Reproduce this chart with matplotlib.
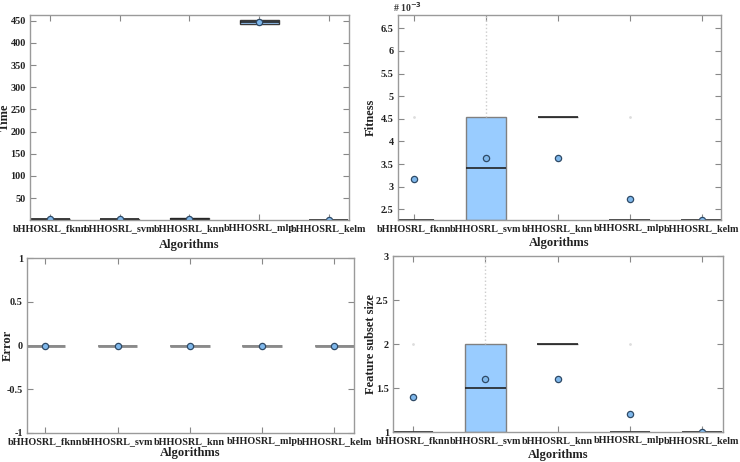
import matplotlib
matplotlib.use("Agg")
import matplotlib.pyplot as plt

plt.rcParams['font.family'] = ['Liberation Serif', 'DejaVu Serif']
plt.rcParams['font.weight'] = 'bold'

algorithms = ["bHHOSRL_fknn", "bHHOSRL_svm", "bHHOSRL_knn", "bHHOSRL_mlp", "bHHOSRL_kelm"]

# Time
time_q1 = [2.0, 1.5, 2.5, 443.0, 0.8]
time_med = [2.5, 2.0, 3.5, 448.0, 1.0]
time_q3 = [3.0, 2.5, 4.8, 452.0, 1.2]
time_lo = [1.5, 1.2, 2.0, 440.0, 0.6]
time_hi = [3.5, 3.0, 5.0, 462.0, 1.4]
time_mean = [3.0, 2.5, 3.8, 448.0, 1.0]

# Fitness (x 1e-3)
fit_q1 = [2.265, 2.265, 4.55, 2.265, 2.265]
fit_med = [2.265, 3.41, 4.55, 2.265, 2.265]
fit_q3 = [2.265, 4.55, 4.55, 2.265, 2.265]
fit_lo = [2.265, 2.265, 4.55, 2.265, 2.265]
fit_hi = [2.265, 6.8, 4.55, 2.265, 2.265]
fit_mean = [3.18, 3.64, 3.64, 2.73, 2.265]
fit_fliers = [[4.55], [], [], [4.55], []]

# Error
err_q1 = [0, 0, 0, 0, 0]
err_med = [0, 0, 0, 0, 0]
err_q3 = [0, 0, 0, 0, 0]
err_lo = [0, 0, 0, 0, 0]
err_hi = [0, 0, 0, 0, 0]
err_mean = [0, 0, 0, 0, 0]

# Feature subset size
fs_q1 = [1, 1, 2, 1, 1]
fs_med = [1, 1.5, 2, 1, 1]
fs_q3 = [1, 2, 2, 1, 1]
fs_lo = [1, 1, 2, 1, 1]
fs_hi = [1, 3, 2, 1, 1]
fs_mean = [1.4, 1.6, 1.6, 1.2, 1.0]
fs_fliers = [[2], [], [], [2], []]

W, H = 740, 462
fig = plt.figure(figsize=(W / 100, H / 100), dpi=100)


def add_ax(x0, x1, ytop, ybot):
    return fig.add_axes([x0 / W, 1 - ybot / H, (x1 - x0) / W, (ybot - ytop) / H])


def draw(ax, q1, med, q3, lo, hi, mean, fliers, ylabel, xlim, ylim, yticks, yticklabels,
         widths, ylab_x, xlab_y, boxlw=1.0, edge='#808080', medcolor='#222222'):
    stats = []
    for i in range(5):
        stats.append(dict(q1=q1[i], med=med[i], q3=q3[i], whislo=lo[i], whishi=hi[i],
                          mean=mean[i], fliers=fliers[i] if fliers else []))
    ax.bxp(stats, positions=range(1, 6), widths=widths, patch_artist=True,
           showmeans=True, showcaps=False,
           boxprops=dict(facecolor='#99ccff', edgecolor=edge, linewidth=boxlw),
           medianprops=dict(color=medcolor, linewidth=1.2),
           whiskerprops=dict(color='#cccccc', linestyle=':', linewidth=1.0),
           meanprops=dict(marker='o', markerfacecolor='#7fb8ec', markeredgecolor='#2f4a66',
                          markersize=4.5, markeredgewidth=0.9),
           flierprops=dict(marker='.', markersize=2, markerfacecolor='#dddddd',
                           markeredgecolor='#dddddd'))
    ax.set_xlim(*xlim)
    ax.set_ylim(*ylim)
    ax.set_yticks(yticks)
    ax.set_yticklabels(yticklabels)
    ax.set_xticks(range(1, 6))
    ax.set_xticklabels(algorithms)
    for s in ax.spines.values():
        s.set_color('#9a9a9a')
        s.set_linewidth(1.0)
    ax.tick_params(direction='in', length=4, color='#888888', top=True, right=True,
                   labelsize=7.3, pad=3, labelcolor='#222222')
    ax.set_ylabel(ylabel, fontsize=9, fontweight='bold', color='#222222')
    ax.set_xlabel('Algorithms', fontsize=9, fontweight='bold', color='#222222')
    ax.yaxis.set_label_coords(ylab_x, 0.5)
    ax.xaxis.set_label_coords(0.5, xlab_y)


ax1 = add_ax(30, 349, 15, 220)
draw(ax1, time_q1, time_med, time_q3, time_lo, time_hi, time_mean, None, 'Time',
     (0.713, 5.29), (0.5, 463), [50, 100, 150, 200, 250, 300, 350, 400, 450],
     ['50', '100', '150', '200', '250', '300', '350', '400', '450'], 0.56,
     ylab_x=(11 - 30) / 319, xlab_y=(220 - 239) / 205, boxlw=1.0, edge='#3a3a3a')

ax2 = add_ax(398, 721, 15, 220)
draw(ax2, fit_q1, fit_med, fit_q3, fit_lo, fit_hi, fit_mean, fit_fliers, 'Fitness',
     (0.78, 5.27), (2.265, 6.795), [2.5, 3, 3.5, 4, 4.5, 5, 5.5, 6, 6.5],
     ['2.5', '3', '3.5', '4', '4.5', '5', '5.5', '6', '6.5'], 0.56,
     ylab_x=(377 - 398) / 323, xlab_y=(220 - 237) / 205)
ax2.text(-0.015, 1.005, '# 10$^{-3}$', transform=ax2.transAxes, fontsize=7, color='#333333',
         ha='left', va='bottom')

ax3 = add_ax(27, 354, 258, 433)
draw(ax3, err_q1, err_med, err_q3, err_lo, err_hi, err_mean, None, 'Error',
     (0.747, 5.27), (-1, 1), [-1, -0.5, 0, 0.5, 1], ['-1', '-0.5', '0', '0.5', '1'], 0.55,
     ylab_x=(14 - 27) / 327, xlab_y=(433 - 447) / 175, boxlw=2.0, edge='#8a8a8a',
     medcolor='#8a8a8a')

ax4 = add_ax(393, 723, 256, 432)
draw(ax4, fs_q1, fs_med, fs_q3, fs_lo, fs_hi, fs_mean, fs_fliers, 'Feature subset size',
     (0.723, 5.29), (1, 3), [1, 1.5, 2, 2.5, 3], ['1', '1.5', '2', '2.5', '3'], 0.56,
     ylab_x=(377 - 393) / 330, xlab_y=(432 - 449) / 176)

fig.savefig('out.png', dpi=100)
